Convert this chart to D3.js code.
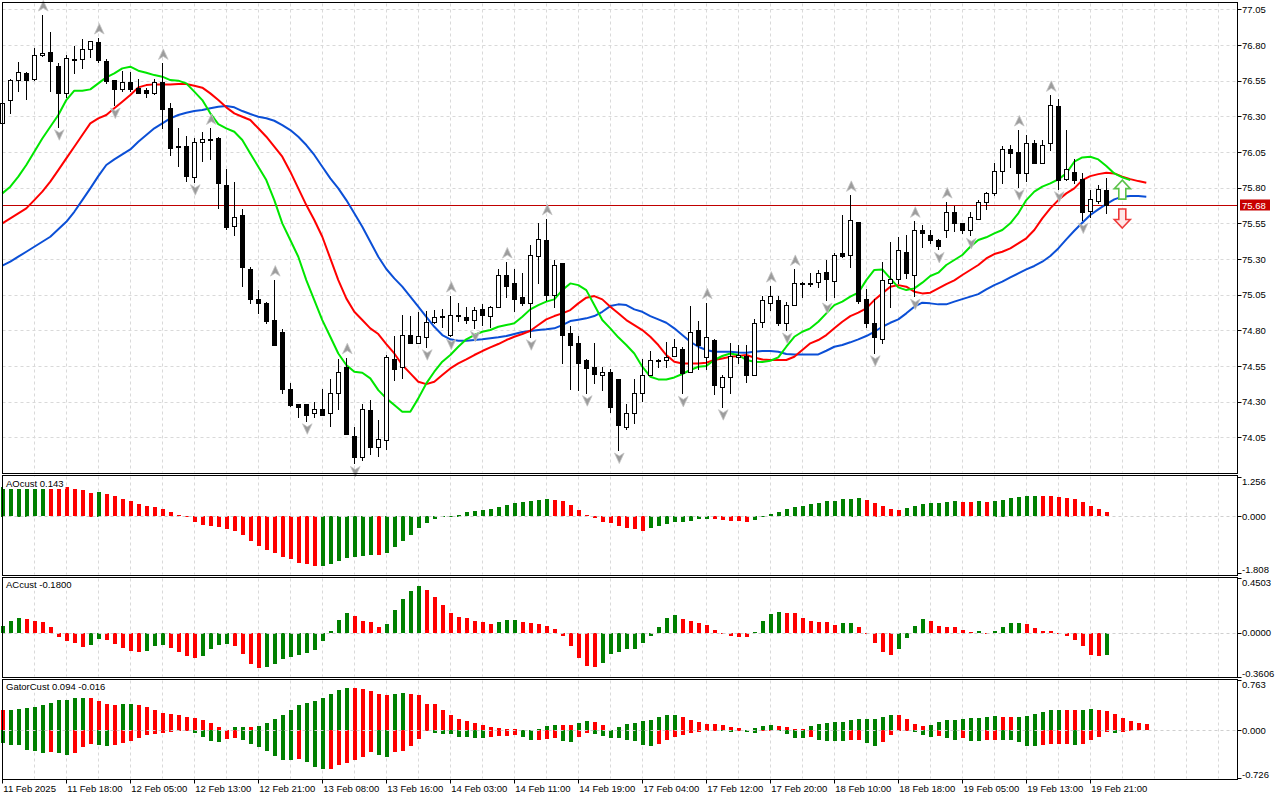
<!DOCTYPE html>
<html>
<head>
<meta charset="utf-8">
<script src="https://cdn.jsdelivr.net/npm/d3@7"></script>
<style>
  body { margin: 0; background: #fff; }
  svg { display: block; }
  text { font-family: "Liberation Sans", Arial, sans-serif; font-size: 9.5px; fill: #000; }
</style>
</head>
<body>
<svg id="chart" width="1280" height="800"></svg>
<script>
// ---- data (hourly bars, index 0 = first bar on screen) ----

const timeLabels = ['11 Feb 2025', '11 Feb 18:00', '12 Feb 05:00', '12 Feb 13:00',
  '12 Feb 21:00', '13 Feb 08:00', '13 Feb 16:00', '14 Feb 03:00', '14 Feb 11:00',
  '14 Feb 19:00', '17 Feb 04:00', '17 Feb 12:00', '17 Feb 20:00', '18 Feb 10:00',
  '18 Feb 18:00', '19 Feb 05:00', '19 Feb 13:00', '19 Feb 21:00'];
const timeLabelBars = [0, 8, 16, 24, 32, 40, 48, 56, 64, 72, 80, 88, 96, 104, 112, 120, 128, 136];

const priceTicks = [77.05, 76.80, 76.55, 76.30, 76.05, 75.80, 75.55, 75.30, 75.05, 74.80, 74.55, 74.30, 74.05];
const lastPrice = 75.68;

const open = [
  76.251, 76.414, 76.552, 76.603, 76.559, 76.727, 76.751, 76.652, 76.461, 76.701,
  76.699, 76.769, 76.821, 76.685, 76.554, 76.489, 76.540, 76.496, 76.484, 76.465,
  76.540, 76.356, 76.092, 76.092, 75.877, 76.120, 76.138, 76.150, 75.818, 75.531,
  75.608, 75.230, 75.017, 74.994, 74.872, 74.788, 74.386, 74.281, 74.281, 74.218,
  74.246, 74.218, 74.358, 74.540, 74.059, 73.909, 74.241, 73.980, 74.031, 74.596,
  74.545, 74.765, 74.713, 74.751, 74.858, 74.900, 74.765, 74.907, 74.895, 74.872,
  74.947, 74.900, 74.966, 75.185, 75.129, 75.031, 74.989, 75.321, 75.433, 75.045,
  75.269, 74.779, 74.713, 74.592, 74.545, 74.484, 74.508, 74.459, 74.124, 74.218,
  74.358, 74.484, 74.592, 74.592, 74.620, 74.671, 74.508, 74.802, 74.615, 74.732,
  74.405, 74.470, 74.615, 74.620, 74.484, 74.858, 74.989, 75.012, 74.849, 74.975,
  75.129, 75.134, 75.138, 75.206, 75.148, 75.339, 75.325, 75.559, 75.017, 74.853,
  74.737, 75.134, 75.157, 75.346, 75.185, 75.503, 75.466, 75.433, 75.503, 75.629,
  75.550, 75.503, 75.582, 75.699, 75.760, 75.919, 76.068, 76.050, 75.900, 76.110,
  75.975, 76.110, 76.372, 75.863, 75.909, 75.858, 75.638, 75.708, 75.783];
const high = [
  76.402, 76.561, 76.680, 76.608, 76.776, 77.010, 76.891, 76.671, 76.727, 76.793,
  76.839, 76.830, 76.849, 76.699, 76.554, 76.620, 76.610, 76.559, 76.496, 76.559,
  76.671, 76.391, 76.215, 76.162, 76.145, 76.190, 76.215, 76.157, 75.928, 75.842,
  75.650, 75.246, 75.082, 74.998, 75.152, 74.809, 74.433, 74.281, 74.281, 74.297,
  74.386, 74.459, 74.596, 74.608, 74.124, 74.283, 74.311, 74.171, 74.624, 74.760,
  74.907, 74.900, 74.930, 74.937, 74.942, 74.947, 75.040, 74.989, 74.961, 74.961,
  74.984, 74.970, 75.232, 75.279, 75.232, 75.199, 75.395, 75.550, 75.582, 75.293,
  75.269, 74.830, 74.760, 74.596, 74.713, 74.545, 74.531, 74.459, 74.283, 74.461,
  74.601, 74.652, 74.596, 74.718, 74.737, 74.685, 74.970, 74.867, 74.994, 74.737,
  74.484, 74.713, 74.694, 74.694, 74.877, 75.040, 75.110, 75.040, 75.000, 75.227,
  75.138, 75.204, 75.223, 75.293, 75.344, 75.606, 75.746, 75.559, 75.087, 75.017,
  75.279, 75.419, 75.452, 75.466, 75.564, 75.536, 75.503, 75.442, 75.699, 75.671,
  75.550, 75.629, 75.713, 75.772, 75.970, 76.092, 76.096, 76.204, 76.166, 76.134,
  76.134, 76.447, 76.419, 76.204, 76.003, 75.900, 75.783, 75.818, 75.865];
const low = [
  76.246, 76.325, 76.479, 76.419, 76.554, 76.722, 76.479, 76.227, 76.437, 76.601,
  76.636, 76.718, 76.680, 76.536, 76.379, 76.479, 76.479, 76.465, 76.437, 76.456,
  76.215, 76.026, 75.954, 75.849, 75.842, 75.989, 76.003, 75.655, 75.508, 75.466,
  75.113, 74.989, 74.919, 74.853, 74.694, 74.358, 74.269, 74.194, 74.166, 74.194,
  74.205, 74.129, 74.246, 74.071, 73.867, 73.891, 73.933, 73.919, 73.970, 74.452,
  74.468, 74.709, 74.709, 74.685, 74.849, 74.825, 74.760, 74.867, 74.853, 74.814,
  74.837, 74.825, 74.961, 75.031, 74.937, 74.977, 74.755, 75.129, 75.012, 74.966,
  74.568, 74.386, 74.382, 74.363, 74.428, 74.381, 74.227, 73.961, 74.106, 74.148,
  74.307, 74.484, 74.545, 74.545, 74.620, 74.358, 74.508, 74.526, 74.526, 74.353,
  74.265, 74.358, 74.568, 74.438, 74.484, 74.821, 74.942, 74.835, 74.802, 74.975,
  75.036, 75.110, 75.101, 75.012, 75.036, 75.311, 75.246, 74.989, 74.821, 74.643,
  74.709, 74.961, 75.134, 75.166, 75.040, 75.381, 75.409, 75.367, 75.452, 75.498,
  75.480, 75.466, 75.582, 75.652, 75.746, 75.830, 75.947, 75.807, 75.849, 75.970,
  75.970, 76.064, 75.793, 75.853, 75.835, 75.573, 75.596, 75.694, 75.620];
const close = [
  76.391, 76.554, 76.610, 76.552, 76.727, 76.741, 76.685, 76.461, 76.706, 76.704,
  76.769, 76.825, 76.694, 76.550, 76.489, 76.540, 76.489, 76.465, 76.461, 76.540,
  76.349, 76.075, 76.087, 75.881, 76.120, 76.138, 76.134, 75.830, 75.526, 75.596,
  75.241, 75.017, 74.989, 74.867, 74.694, 74.386, 74.279, 74.265, 74.206, 74.246,
  74.209, 74.358, 74.508, 74.071, 73.909, 74.246, 73.980, 74.036, 74.610, 74.526,
  74.765, 74.713, 74.758, 74.858, 74.891, 74.891, 74.907, 74.900, 74.872, 74.942,
  74.907, 74.961, 75.185, 75.110, 75.017, 74.989, 75.325, 75.437, 75.045, 75.255,
  74.765, 74.697, 74.573, 74.536, 74.494, 74.508, 74.260, 74.138, 74.218, 74.358,
  74.484, 74.592, 74.594, 74.615, 74.680, 74.498, 74.788, 74.694, 74.751, 74.414,
  74.470, 74.620, 74.624, 74.484, 74.853, 75.012, 75.040, 74.849, 74.975, 75.129,
  75.134, 75.131, 75.199, 75.157, 75.328, 75.321, 75.573, 75.008, 74.853, 74.751,
  75.152, 75.157, 75.363, 75.199, 75.503, 75.480, 75.433, 75.391, 75.629, 75.550,
  75.503, 75.596, 75.699, 75.760, 75.919, 76.068, 76.045, 75.900, 76.110, 75.975,
  76.096, 76.377, 75.853, 75.928, 75.853, 75.629, 75.718, 75.788, 75.680];

// Alligator lines as drawn (already shifted forward on the chart)
const lips = [
  75.760, 75.807, 75.877, 75.959, 76.052, 76.145, 76.227, 76.309, 76.414, 76.480,
  76.480, 76.489, 76.531, 76.573, 76.601, 76.636, 76.648, 76.620, 76.606, 76.589,
  76.578, 76.554, 76.550, 76.531, 76.473, 76.414, 76.321, 76.246, 76.216, 76.192,
  76.134, 76.040, 75.947, 75.853, 75.713, 75.550, 75.433, 75.316, 75.152, 75.012,
  74.872, 74.755, 74.638, 74.557, 74.510, 74.503, 74.463, 74.381, 74.323, 74.276,
  74.230, 74.230, 74.323, 74.428, 74.510, 74.580, 74.627, 74.685, 74.737, 74.767,
  74.790, 74.802, 74.825, 74.837, 74.849, 74.895, 74.947, 74.977, 75.001, 75.017,
  75.082, 75.129, 75.117, 75.082, 74.977, 74.872, 74.814, 74.751, 74.697, 74.638,
  74.545, 74.475, 74.456, 74.456, 74.470, 74.494, 74.522, 74.545, 74.550, 74.592,
  74.620, 74.638, 74.627, 74.592, 74.580, 74.578, 74.587, 74.610, 74.685, 74.755,
  74.790, 74.814, 74.860, 74.919, 74.977, 75.001, 75.036, 75.064, 75.152, 75.223,
  75.227, 75.164, 75.101, 75.082, 75.094, 75.134, 75.181, 75.204, 75.258, 75.293,
  75.328, 75.386, 75.433, 75.452, 75.480, 75.503, 75.550, 75.620, 75.713, 75.772,
  75.807, 75.830, 75.858, 75.900, 75.982, 76.012, 76.017, 75.998, 75.952, 75.900,
  75.872, 75.853];
const teeth = [
  75.550, 75.585, 75.620, 75.655, 75.713, 75.772, 75.842, 75.923, 76.005, 76.087,
  76.169, 76.251, 76.286, 76.309, 76.356, 76.402, 76.449, 76.503, 76.519, 76.524,
  76.524, 76.524, 76.526, 76.526, 76.515, 76.501, 76.461, 76.414, 76.363, 76.321,
  76.297, 76.274, 76.216, 76.157, 76.087, 76.017, 75.912, 75.795, 75.678, 75.573,
  75.456, 75.304, 75.152, 75.024, 74.930, 74.872, 74.814, 74.774, 74.704, 74.638,
  74.557, 74.498, 74.440, 74.423, 74.440, 74.487, 74.533, 74.568, 74.596, 74.627,
  74.655, 74.680, 74.704, 74.732, 74.755, 74.774, 74.797, 74.837, 74.877, 74.900,
  74.919, 74.942, 74.989, 75.029, 75.040, 75.017, 74.966, 74.919, 74.872, 74.837,
  74.802, 74.755, 74.697, 74.627, 74.580, 74.568, 74.568, 74.568, 74.573, 74.592,
  74.603, 74.615, 74.620, 74.627, 74.610, 74.596, 74.592, 74.592, 74.592, 74.615,
  74.662, 74.709, 74.732, 74.767, 74.814, 74.860, 74.900, 74.924, 74.954, 75.012,
  75.059, 75.106, 75.117, 75.106, 75.071, 75.059, 75.064, 75.094, 75.124, 75.150,
  75.188, 75.223, 75.258, 75.304, 75.335, 75.351, 75.374, 75.409, 75.445, 75.503,
  75.585, 75.655, 75.713, 75.760, 75.795, 75.853, 75.881, 75.895, 75.905, 75.900,
  75.877, 75.860, 75.846, 75.835];
const jaw = [
  75.253, 75.281, 75.316, 75.351, 75.386, 75.421, 75.456, 75.508, 75.561, 75.631,
  75.713, 75.795, 75.881, 75.959, 75.998, 76.033, 76.068, 76.122, 76.169, 76.216,
  76.251, 76.286, 76.309, 76.325, 76.337, 76.344, 76.356, 76.367, 76.372, 76.363,
  76.337, 76.316, 76.297, 76.286, 76.269, 76.239, 76.204, 76.157, 76.099, 76.029,
  75.947, 75.865, 75.795, 75.713, 75.620, 75.526, 75.421, 75.316, 75.230, 75.164,
  75.106, 75.036, 74.966, 74.895, 74.825, 74.767, 74.737, 74.727, 74.727, 74.732,
  74.737, 74.744, 74.751, 74.760, 74.774, 74.788, 74.795, 74.802, 74.807, 74.814,
  74.837, 74.865, 74.874, 74.884, 74.900, 74.930, 74.970, 74.982, 74.977, 74.947,
  74.930, 74.900, 74.877, 74.853, 74.814, 74.767, 74.720, 74.685, 74.662, 74.650,
  74.650, 74.650, 74.645, 74.643, 74.650, 74.655, 74.655, 74.650, 74.634, 74.631,
  74.631, 74.631, 74.631, 74.657, 74.685, 74.697, 74.716, 74.737, 74.760, 74.790,
  74.825, 74.853, 74.877, 74.919, 74.966, 74.994, 74.989, 74.982, 74.982, 75.001,
  75.019, 75.036, 75.054, 75.087, 75.117, 75.141, 75.171, 75.199, 75.227, 75.251,
  75.281, 75.321, 75.374, 75.438, 75.498, 75.554, 75.608, 75.648, 75.685, 75.718,
  75.737, 75.741, 75.741, 75.737];

const fractalUpBars = [5, 12, 20, 26, 34, 43, 56, 63, 68, 88, 96, 99, 106, 114, 118, 127, 131];
const fractalDownBars = [7, 14, 24, 38, 44, 53, 56, 59, 66, 73, 77, 85, 90, 98, 103, 109, 114, 117,
  121, 127, 132, 135];

// the two signal arrows after the last bar
const signalBar = 140;
const signalUpPrice = 75.783;
const signalDownPrice = 75.587;

const aoValues = [
  0.95, 1.00, 1.04, 1.08, 1.10, 1.12, 1.06, 0.99, 0.934, 0.870,
  0.837, 0.751, 0.784, 0.709, 0.644, 0.548, 0.483, 0.397, 0.322, 0.290,
  0.225, 0.129, 0.032, -0.043, -0.183, -0.290, -0.322, -0.365, -0.429, -0.483,
  -0.612, -0.805, -0.966, -1.095, -1.181, -1.320, -1.385, -1.492, -1.546, -1.610,
  -1.600, -1.546, -1.449, -1.342, -1.310, -1.288, -1.230, -1.240, -1.190, -0.988,
  -0.794, -0.612, -0.376, -0.215, -0.107, -0.010, 0.010, 0.054, 0.129, 0.161,
  0.204, 0.225, 0.290, 0.354, 0.429, 0.462, 0.494, 0.526, 0.548, 0.515,
  0.483, 0.354, 0.193, 0.032, -0.075, -0.183, -0.215, -0.311, -0.376, -0.429,
  -0.472, -0.397, -0.322, -0.268, -0.204, -0.183, -0.150, -0.107, -0.086, -0.097,
  -0.118, -0.150, -0.155, -0.183, -0.140, 0.020, 0.064, 0.140, 0.236, 0.290,
  0.322, 0.386, 0.429, 0.483, 0.490, 0.548, 0.569, 0.575, 0.515, 0.440,
  0.322, 0.236, 0.193, 0.268, 0.322, 0.386, 0.419, 0.430, 0.462, 0.483,
  0.462, 0.455, 0.483, 0.462, 0.505, 0.537, 0.580, 0.612, 0.644, 0.650,
  0.640, 0.635, 0.612, 0.601, 0.548, 0.462, 0.322, 0.236, 0.143];
const aoTicks = [1.256, 0, -1.808];
const aoTickLabels = ['1.256', '0.000', '-1.808'];

const acValues = [
  0.057, 0.098, 0.120, 0.115, 0.101, 0.090, 0.049, -0.030, -0.063, -0.079,
  -0.115, -0.098, -0.049, -0.057, -0.087, -0.123, -0.145, -0.153, -0.145, -0.106,
  -0.098, -0.123, -0.158, -0.191, -0.205, -0.188, -0.131, -0.098, -0.090, -0.104,
  -0.175, -0.251, -0.284, -0.280, -0.251, -0.216, -0.197, -0.180, -0.167, -0.137,
  -0.063, 0.016, 0.106, 0.164, 0.139, 0.101, 0.093, 0.049, 0.074, 0.188,
  0.278, 0.344, 0.385, 0.352, 0.295, 0.229, 0.167, 0.131, 0.120, 0.098,
  0.090, 0.076, 0.090, 0.106, 0.107, 0.090, 0.082, 0.074, 0.055, 0.033,
  -0.022, -0.104, -0.202, -0.270, -0.278, -0.243, -0.172, -0.153, -0.134, -0.128,
  -0.079, -0.022, 0.049, 0.120, 0.147, 0.115, 0.098, 0.085, 0.066, 0.027,
  -0.008, -0.022, -0.030, -0.031, 0.011, 0.101, 0.158, 0.172, 0.167, 0.166,
  0.123, 0.101, 0.090, 0.089, 0.066, 0.082, 0.083, 0.049, -0.003, -0.079,
  -0.153, -0.177, -0.128, -0.038, 0.057, 0.115, 0.098, 0.057, 0.049, 0.048,
  0.025, 0.011, 0.016, -0.003, 0.016, 0.049, 0.082, 0.083, 0.074, 0.041,
  0.016, 0.015, 0.000, -0.025, -0.057, -0.106, -0.180, -0.188, -0.180];
const acTicks = [0.4503, 0, -0.3606];
const acTickLabels = ['0.4503', '0.0000', '-0.3606'];

const gatorUpper = [
  0.309, 0.312, 0.315, 0.334, 0.359, 0.384, 0.415, 0.460, 0.465, 0.486,
  0.496, 0.494, 0.445, 0.395, 0.384, 0.395, 0.397, 0.384, 0.349, 0.303,
  0.258, 0.243, 0.233, 0.197, 0.182, 0.152, 0.111, 0.051, 0.010, 0.046,
  0.047, 0.045, 0.066, 0.106, 0.167, 0.233, 0.303, 0.384, 0.420, 0.445,
  0.491, 0.551, 0.612, 0.647, 0.645, 0.627, 0.597, 0.551, 0.541, 0.551,
  0.567, 0.551, 0.536, 0.405, 0.395, 0.309, 0.233, 0.167, 0.142, 0.111,
  0.081, 0.046, 0.040, 0.020, 0.015, 0.005, 0.003, 0.025, 0.061, 0.081,
  0.080, 0.079, 0.106, 0.142, 0.131, 0.081, 0.010, 0.051, 0.096, 0.116,
  0.142, 0.157, 0.202, 0.233, 0.235, 0.202, 0.157, 0.121, 0.101, 0.091,
  0.086, 0.051, 0.030, 0.005, 0.030, 0.066, 0.081, 0.066, 0.048, 0.015,
  0.014, 0.071, 0.096, 0.106, 0.121, 0.132, 0.157, 0.172, 0.173, 0.175,
  0.202, 0.233, 0.230, 0.167, 0.096, 0.066, 0.081, 0.126, 0.152, 0.153,
  0.167, 0.182, 0.183, 0.202, 0.218, 0.202, 0.200, 0.205, 0.223, 0.248,
  0.283, 0.303, 0.305, 0.302, 0.300, 0.305, 0.319, 0.303, 0.288, 0.248,
  0.182, 0.137, 0.106, 0.094];
const gatorLower = [
  -0.197, -0.223, -0.233, -0.298, -0.324, -0.354, -0.339, -0.354, -0.384, -0.349,
  -0.263, -0.212, -0.233, -0.248, -0.223, -0.202, -0.172, -0.121, -0.081, -0.066,
  -0.051, -0.025, -0.020, -0.010, -0.051, -0.111, -0.162, -0.177, -0.142, -0.121,
  -0.157, -0.212, -0.253, -0.314, -0.389, -0.450, -0.460, -0.440, -0.486, -0.567,
  -0.597, -0.592, -0.536, -0.506, -0.450, -0.405, -0.339, -0.374, -0.405, -0.339,
  -0.324, -0.248, -0.132, -0.020, -0.045, -0.061, -0.062, -0.101, -0.111, -0.116,
  -0.117, -0.101, -0.091, -0.086, -0.081, -0.111, -0.157, -0.145, -0.132, -0.121,
  -0.162, -0.175, -0.100, -0.051, -0.055, -0.090, -0.120, -0.127, -0.150, -0.172,
  -0.230, -0.248, -0.213, -0.157, -0.110, -0.075, -0.047, -0.030, -0.022, -0.008,
  -0.018, -0.024, -0.010, -0.030, -0.040, -0.020, -0.006, -0.020, -0.061, -0.121,
  -0.122, -0.111, -0.147, -0.172, -0.173, -0.174, -0.157, -0.155, -0.197, -0.248,
  -0.187, -0.081, -0.010, -0.005, -0.035, -0.081, -0.106, -0.096, -0.121, -0.147,
  -0.121, -0.162, -0.167, -0.147, -0.146, -0.148, -0.157, -0.187, -0.238, -0.248,
  -0.223, -0.212, -0.211, -0.210, -0.233, -0.212, -0.157, -0.111, -0.035, -0.040,
  -0.028, -0.016];
const gatorTicks = [0.763, 0, -0.726];
const gatorTickLabels = ['0.763', '0.000', '-0.726'];

// ---- layout ----

const svg = d3.select('#chart');
const FRAME_LEFT = 2.5;
const FRAME_RIGHT = 1237.5;
const GREEN = '#008000';
const RED = '#ff0000';
const GRID = '#d9d9d9';

const panels = {
  main: {top: 2.5, bottom: 473.5},
  ao: {top: 475.5, bottom: 575.5},
  ac: {top: 577.5, bottom: 677.5},
  gator: {top: 679.5, bottom: 779.5},
};

// 8px per bar; bar 0 sits on the left frame
const x = d3.scaleLinear().domain([0, 154]).range([2.3, 1234.3]);
const yPrice = d3.scaleLinear().domain([73.8, 77.1]).range([473, 2.2]);
const yAO = d3.scaleLinear().domain([-1.808, 1.256]).range([573, 477]);
const yAC = d3.scaleLinear().domain([-0.3606, 0.4503]).range([677, 578]);
const yGator = d3.scaleLinear().domain([-0.726, 0.763]).range([778, 680]);

const px = (v) => Math.round(v) + 0.5;

// ---- grids ----
const gridLayer = svg.append('g').attr('stroke', GRID).attr('stroke-dasharray', '3,3');
const gridBars = d3.range(4, 154, 4);
Object.values(panels).forEach((p) => {
  gridLayer.selectAll(null).data(gridBars).join('line')
      .attr('x1', (d) => px(x(d))).attr('x2', (d) => px(x(d)))
      .attr('y1', p.top + 1).attr('y2', p.bottom - 1);
});
gridLayer.selectAll(null).data(priceTicks).join('line')
    .attr('x1', FRAME_LEFT).attr('x2', FRAME_RIGHT)
    .attr('y1', (d) => px(yPrice(d))).attr('y2', (d) => px(yPrice(d)));

// ---- main panel ----
const main = svg.append('g');

main.append('line')
    .attr('x1', FRAME_LEFT).attr('x2', FRAME_RIGHT)
    .attr('y1', px(yPrice(lastPrice))).attr('y2', px(yPrice(lastPrice)))
    .attr('stroke', '#c00000').attr('stroke-width', 1);

const lineGen = d3.line().x((d, i) => x(i)).y((d) => yPrice(d));
[[jaw, '#0b4fd6'], [teeth, '#ff0000'], [lips, '#00e600']].forEach(([series, color]) => {
  main.append('path').datum(series)
      .attr('d', lineGen)
      .attr('fill', 'none')
      .attr('stroke', color)
      .attr('stroke-width', 2)
      .attr('stroke-linejoin', 'round');
});

// candles
const candleIdx = d3.range(open.length);
const candles = main.append('g').attr('shape-rendering', 'crispEdges');
candles.selectAll('line').data(candleIdx).join('line')
    .attr('x1', (i) => px(x(i))).attr('x2', (i) => px(x(i)))
    .attr('y1', (i) => Math.round(yPrice(high[i])))
    .attr('y2', (i) => Math.round(yPrice(low[i])) + 1)
    .attr('stroke', '#000');
candles.selectAll('rect').data(candleIdx).join('rect')
    .attr('x', (i) => Math.round(x(i)) - 2 + 0.5)
    .attr('width', 4)
    .attr('y', (i) => Math.round(yPrice(Math.max(open[i], close[i]))) + 0.5)
    .attr('height', (i) => Math.max(1,
        Math.round(yPrice(Math.min(open[i], close[i]))) - Math.round(yPrice(Math.max(open[i], close[i])))))
    .attr('fill', (i) => (close[i] >= open[i] ? '#fff' : '#000'))
    .attr('stroke', '#000');

// fractal markers
const fractals = main.append('g').attr('fill', '#9c9c9c').attr('stroke', '#c4c4c4').attr('stroke-width', 0.8);
fractals.selectAll('.up').data(fractalUpBars).join('path')
    .attr('class', 'up')
    .attr('d', 'M0,-5.5L4.8,5L0,2L-4.8,5Z')
    .attr('transform', (i) => `translate(${x(i) + 1},${yPrice(high[i]) - 9})`);
fractals.selectAll('.down').data(fractalDownBars).join('path')
    .attr('class', 'down')
    .attr('d', 'M0,5.5L4.8,-5L0,-2L-4.8,-5Z')
    .attr('transform', (i) => `translate(${x(i) + 1},${yPrice(low[i]) + 8})`);

// signal arrows
main.append('path')
    .attr('d', 'M0,-10L8,-1.5L3.5,-1.5L3.5,9L-3.5,9L-3.5,-1.5L-8,-1.5Z')
    .attr('transform', `translate(${x(signalBar)},${yPrice(signalUpPrice)})`)
    .attr('fill', '#fff').attr('stroke', '#5cc24a').attr('stroke-width', 1.6);
main.append('path')
    .attr('d', 'M0,10L8,1.5L3.5,1.5L3.5,-9L-3.5,-9L-3.5,1.5L-8,1.5Z')
    .attr('transform', `translate(${x(signalBar)},${yPrice(signalDownPrice)})`)
    .attr('fill', '#ffe8e8').attr('stroke', '#ee3a3a').attr('stroke-width', 1.6);

// ---- indicator histograms ----

function drawBars(values, y, colorOf) {
  const g = svg.append('g').attr('shape-rendering', 'crispEdges');
  g.selectAll('rect').data(values).join('rect')
      .attr('x', (d, i) => Math.round(x(i)) - 1)
      .attr('width', 4)
      .attr('y', (d) => Math.round(Math.min(y(d), y(0))))
      .attr('height', (d) => Math.max(1, Math.round(Math.abs(y(d) - y(0)))))
      .attr('fill', (d, i) => colorOf(d, i));
}

function zeroLine(y) {
  svg.append('line')
      .attr('x1', FRAME_LEFT).attr('x2', FRAME_RIGHT)
      .attr('y1', px(y(0))).attr('y2', px(y(0)))
      .attr('stroke', '#cfcfcf').attr('stroke-dasharray', '3,3');
}

// a bar is green when it grew against the one before it
drawBars(aoValues, yAO, (d, i) => (i === 0 || d > aoValues[i - 1] ? GREEN : RED));
zeroLine(yAO);
drawBars(acValues, yAC, (d, i) => (i === 0 || d > acValues[i - 1] ? GREEN : RED));
zeroLine(yAC);
drawBars(gatorUpper, yGator, (d, i) => (i > 0 && d > gatorUpper[i - 1] ? GREEN : RED));
drawBars(gatorLower, yGator, (d, i) => (i === 0 || Math.abs(d) > Math.abs(gatorLower[i - 1]) ? GREEN : RED));
zeroLine(yGator);

// ---- frames ----
Object.values(panels).forEach((p) => {
  svg.append('rect')
      .attr('x', FRAME_LEFT).attr('y', p.top)
      .attr('width', FRAME_RIGHT - FRAME_LEFT).attr('height', p.bottom - p.top)
      .attr('fill', 'none').attr('stroke', '#000');
});

// ---- right axes ----
const axisG = svg.append('g');
axisG.selectAll('.pt').data(priceTicks).join('line')
    .attr('x1', FRAME_RIGHT).attr('x2', FRAME_RIGHT + 4)
    .attr('y1', (d) => px(yPrice(d))).attr('y2', (d) => px(yPrice(d)))
    .attr('stroke', '#000');
axisG.selectAll('.pl').data(priceTicks).join('text')
    .attr('x', FRAME_RIGHT + 4.5)
    .attr('y', (d) => yPrice(d) + 3.5)
    .text((d) => d.toFixed(2));

// current price tag
axisG.append('rect')
    .attr('x', 1240).attr('y', Math.round(yPrice(lastPrice)) - 5.5)
    .attr('width', 30).attr('height', 11).attr('fill', '#c80000');
axisG.append('text')
    .attr('x', 1242).attr('y', yPrice(lastPrice) + 4)
    .attr('fill', '#fff').style('fill', '#fff')
    .text(lastPrice.toFixed(2));

function subAxis(ticks, labels, y) {
  const offsets = [4, 0, -3.5];
  ticks.forEach((t, k) => {
    axisG.append('line')
        .attr('x1', FRAME_RIGHT).attr('x2', FRAME_RIGHT + 4)
        .attr('y1', px(y(t))).attr('y2', px(y(t)))
        .attr('stroke', '#000');
    axisG.append('text')
        .attr('x', FRAME_RIGHT + 4.5)
        .attr('y', y(t) + offsets[k] + 3.5)
        .text(labels[k]);
  });
}
subAxis(aoTicks, aoTickLabels, yAO);
subAxis(acTicks, acTickLabels, yAC);
subAxis(gatorTicks, gatorTickLabels, yGator);

// ---- time axis ----
const timeG = svg.append('g');
timeG.selectAll('line').data(timeLabelBars).join('line')
    .attr('x1', (d) => px(x(d))).attr('x2', (d) => px(x(d)))
    .attr('y1', panels.gator.bottom).attr('y2', panels.gator.bottom + 4)
    .attr('stroke', '#000');
timeG.selectAll('text').data(timeLabelBars).join('text')
    .attr('x', (d) => x(d) + 1)
    .attr('y', 792)
    .text((d, k) => timeLabels[k]);

// ---- indicator captions (drawn on a white patch, like the terminal does) ----
[
  ['AOcust 0.143', panels.ao.top + 1.5],
  ['ACcust -0.1800', panels.ac.top + 1],
  ['GatorCust 0.094 -0.016', panels.gator.top + 1],
].forEach(([label, top]) => {
  const t = svg.append('text').attr('x', 6).attr('y', top + 9.5).text(label);
  const w = t.node().getComputedTextLength();
  svg.insert('rect', () => t.node())
      .attr('x', 3).attr('y', top).attr('width', w + 5).attr('height', 12)
      .attr('fill', '#fff');
});
</script>
</body>
</html>
